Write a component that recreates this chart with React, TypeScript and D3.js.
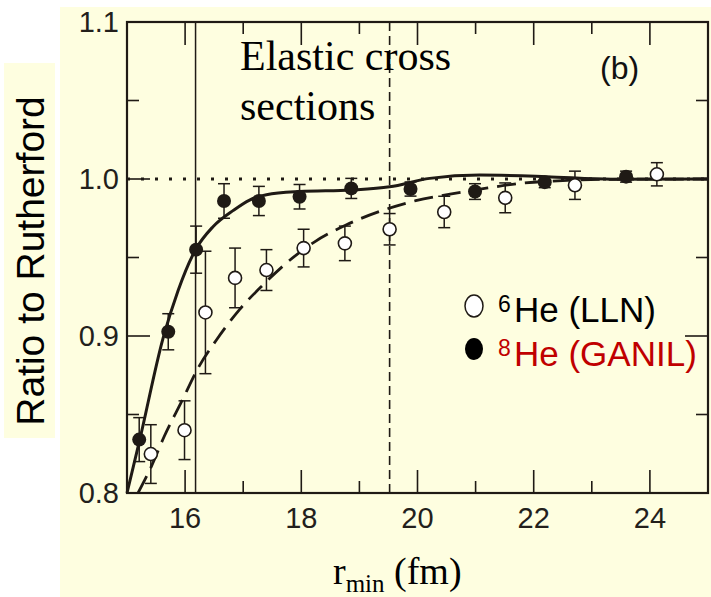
import React from "react";
import * as d3 from "d3";

// ---- data ----
const he8R = [15.21, 15.71, 16.19, 16.67, 17.27, 17.97, 18.86, 19.88, 20.99, 22.19, 23.59];
const he8V = [0.834, 0.9027, 0.955, 0.986, 0.986, 0.9887, 0.994, 0.9936, 0.992, 0.998, 1.0015];
const he8E = [0.014, 0.0115, 0.015, 0.011, 0.0093, 0.0078, 0.0064, 0.0045, 0.005, 0.0035, 0.0035];

const he6R = [15.41, 15.99, 16.35, 16.86, 17.4, 18.04, 18.75, 19.52, 20.46, 21.51, 22.71, 24.12];
const he6V = [0.8248, 0.84, 0.915, 0.937, 0.942, 0.956, 0.959, 0.968, 0.979, 0.988, 0.996, 1.003];
const he6E = [0.0187, 0.0187, 0.039, 0.019, 0.013, 0.012, 0.011, 0.01, 0.01, 0.0095, 0.009, 0.0074];

// fitted curves
const fit8R = [15.0, 15.22, 15.62, 15.88, 16.18, 16.48, 16.83, 17.11, 17.4, 17.97, 18.86, 19.52, 20.21, 21.07, 22.21, 23.35, 25.0];
const fit8V = [0.8, 0.834, 0.8985, 0.929, 0.955, 0.9696, 0.98, 0.9866, 0.99, 0.992, 0.993, 0.995, 1.0004, 1.0025, 1.0015, 0.9998, 1.0];

const fit6R = [15.19, 15.42, 15.64, 15.95, 16.23, 16.53, 16.94, 17.34, 17.77, 18.23, 18.77, 19.4, 19.97, 20.56, 21.21, 21.78, 22.5, 23.2, 25.0];
const fit6V = [0.8, 0.817, 0.836, 0.859, 0.88, 0.897, 0.917, 0.9325, 0.9473, 0.96, 0.9707, 0.98, 0.9862, 0.9904, 0.9943, 0.9973, 0.999, 0.9998, 1.0];

const xMajor = [16, 18, 20, 22, 24];
const xMinor = [17, 19, 21, 23];
const yMajor = [0.8, 0.9, 1.0, 1.1];
const yMinor = [0.85, 0.95, 1.05];
const solidRefX = 16.18;
const dashedRefX = 19.52;
const refY = 1.0;

const ink = "#1f1a15";
const bg = "#fefee0";

export default function App() {
  const x = d3.scaleLinear().domain([15, 25]).range([127, 708]);
  const y = d3.scaleLinear().domain([0.8, 1.1]).range([493, 22]);
  const [x0, x1] = x.range();
  const [y0, y1] = y.range();

  const line = d3
    .line<[number, number]>()
    .x((d) => x(d[0]))
    .y((d) => y(d[1]))
    .curve(d3.curveMonotoneX);

  const fit8 = line(fit8R.map((r, i) => [r, fit8V[i]] as [number, number])) || "";
  const fit6 = line(fit6R.map((r, i) => [r, fit6V[i]] as [number, number])) || "";

  const fmtY = d3.format(".1f");
  const MAJ = 23;
  const MIN = 12;
  const cap = 6;

  const errBar = (r: number, v: number, e: number, key: string) => (
    <g key={key} stroke={ink} strokeWidth={1.5}>
      <line x1={x(r)} x2={x(r)} y1={y(v + e)} y2={y(v - e)} />
      <line x1={x(r) - cap} x2={x(r) + cap} y1={y(v + e)} y2={y(v + e)} />
      <line x1={x(r) - cap} x2={x(r) + cap} y1={y(v - e)} y2={y(v - e)} />
    </g>
  );

  return (
    <svg
      width={711}
      height={597}
      style={{ position: "absolute", left: 0, top: 0 }}
      xmlns="http://www.w3.org/2000/svg"
    >
      <rect x={0} y={0} width={711} height={597} fill="#ffffff" />
      <rect x={60} y={7} width={651} height={590} fill={bg} />
      <rect x={4} y={63} width={51} height={375} fill={bg} />

      {/* y axis title */}
      <text
        transform="translate(44,261) rotate(-90)"
        textAnchor="middle"
        fontFamily="'Liberation Sans', Arial, sans-serif"
        fontSize={39}
        fill="#000"
      >
        Ratio to Rutherford
      </text>

      {/* reference lines */}
      <line x1={x(solidRefX)} x2={x(solidRefX)} y1={y1} y2={y0} stroke={ink} strokeWidth={1.5} />
      <line
        x1={x(dashedRefX)}
        x2={x(dashedRefX)}
        y1={y1}
        y2={y0}
        stroke={ink}
        strokeWidth={1.6}
        strokeDasharray="9,5"
      />
      <line
        x1={x0}
        x2={x1}
        y1={y(refY)}
        y2={y(refY)}
        stroke={ink}
        strokeWidth={2.8}
        strokeDasharray="3,11"
      />

      {/* fitted curves */}
      <path d={fit6} fill="none" stroke={ink} strokeWidth={2.8} strokeDasharray="19,9" />
      <path d={fit8} fill="none" stroke={ink} strokeWidth={3} />

      {/* error bars */}
      {he6R.map((r, i) => errBar(r, he6V[i], he6E[i], "e6" + i))}
      {he8R.map((r, i) => errBar(r, he8V[i], he8E[i], "e8" + i))}

      {/* markers */}
      {he6R.map((r, i) => (
        <circle key={"m6" + i} cx={x(r)} cy={y(he6V[i])} r={6.5} fill="#ffffff" stroke={ink} strokeWidth={1.6} />
      ))}
      {he8R.map((r, i) => (
        <circle key={"m8" + i} cx={x(r)} cy={y(he8V[i])} r={7} fill={ink} />
      ))}

      {/* frame */}
      <rect x={x0} y={y1} width={x1 - x0} height={y0 - y1} fill="none" stroke={ink} strokeWidth={2.2} />

      {/* ticks */}
      <g stroke={ink} strokeWidth={1.6}>
        {xMajor.map((t) => (
          <g key={"xM" + t}>
            <line x1={x(t)} x2={x(t)} y1={y0} y2={y0 - MAJ} />
            <line x1={x(t)} x2={x(t)} y1={y1} y2={y1 + MAJ} />
          </g>
        ))}
        {xMinor.map((t) => (
          <g key={"xm" + t}>
            <line x1={x(t)} x2={x(t)} y1={y0} y2={y0 - MIN} />
            <line x1={x(t)} x2={x(t)} y1={y1} y2={y1 + MIN} />
          </g>
        ))}
        {yMajor.map((t) => (
          <g key={"yM" + t}>
            <line x1={x0} x2={x0 + MAJ} y1={y(t)} y2={y(t)} />
            <line x1={x1} x2={x1 - MAJ} y1={y(t)} y2={y(t)} />
          </g>
        ))}
        {yMinor.map((t) => (
          <g key={"ym" + t}>
            <line x1={x0} x2={x0 + MIN} y1={y(t)} y2={y(t)} />
            <line x1={x1} x2={x1 - MIN} y1={y(t)} y2={y(t)} />
          </g>
        ))}
      </g>

      {/* tick labels */}
      <g fontFamily="'Liberation Sans', Arial, sans-serif" fontSize={29} fill="#231f1c">
        {yMajor.map((t) => (
          <text key={"yl" + t} x={119} y={y(t)} dy="0.36em" textAnchor="end">
            {fmtY(t)}
          </text>
        ))}
        {xMajor.map((t) => (
          <text key={"xl" + t} x={x(t)} y={528} textAnchor="middle">
            {t}
          </text>
        ))}
      </g>

      {/* x axis title */}
      <text x={333} y={584} fontFamily="'Liberation Serif', 'Times New Roman', serif" fontSize={38} fill="#000">
        <tspan>r</tspan>
        <tspan dy={8} fontSize={25}>min</tspan>
        <tspan dy={-8}> (fm)</tspan>
      </text>

      {/* annotation */}
      <g fontFamily="'Liberation Serif', 'Times New Roman', serif" fontSize={42} fill="#000">
        <text x={240} y={70}>Elastic cross</text>
        <text x={240} y={120}>sections</text>
      </g>
      <text x={600} y={79} fontFamily="'Liberation Sans', Arial, sans-serif" fontSize={32} fill="#111">
        (b)
      </text>

      {/* legend */}
      <ellipse cx={474} cy={306} rx={9} ry={11} fill="#ffffff" stroke={ink} strokeWidth={1.5} />
      <ellipse cx={474} cy={349} rx={9} ry={11} fill="#000" />
      <text fontFamily="'Liberation Sans', Arial, sans-serif" fill="#000">
        <tspan x={498} y={312} fontSize={23}>6</tspan>
        <tspan x={514} y={322} fontSize={35}>He (LLN)</tspan>
      </text>
      <text fontFamily="'Liberation Sans', Arial, sans-serif" fill="#c00000">
        <tspan x={498} y={356} fontSize={23}>8</tspan>
        <tspan x={514} y={366} fontSize={35}>He (GANIL)</tspan>
      </text>
    </svg>
  );
}
